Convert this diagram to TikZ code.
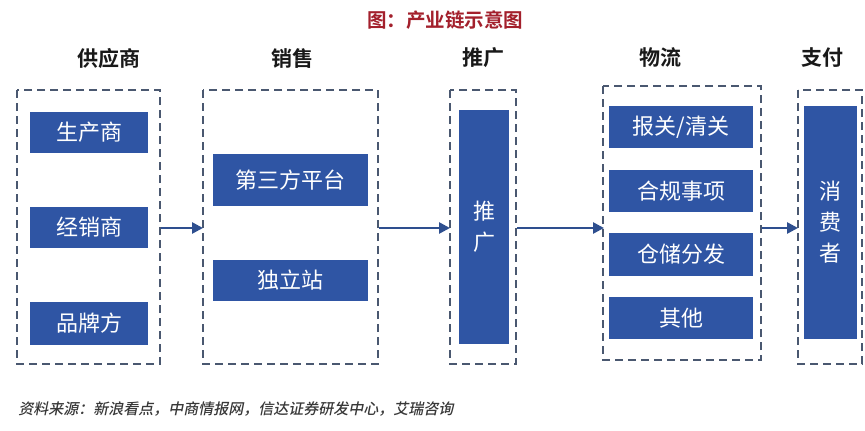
\documentclass[tikz,border=0pt]{standalone}
\usepackage{fontspec}
\newfontfamily\cjk{Noto Sans CJK SC}
\newfontfamily\cjkb{Noto Sans CJK SC Bold}
\newfontfamily\cjkm{Noto Sans CJK SC Medium}
\usetikzlibrary{arrows.meta}
\definecolor{boxblue}{HTML}{2F55A4}
\definecolor{dashc}{HTML}{4A5870}
\definecolor{arrc}{HTML}{2E4F8F}
\definecolor{titler}{HTML}{A3202C}
\tikzset{
  grp/.style={draw=dashc, line width=1.8pt, dash pattern=on 8pt off 5pt},
  item/.style={fill=boxblue, draw=none, text=white, font=\cjk\fontsize{22}{25}\selectfont},
  hdr/.style={font=\cjkb\fontsize{21}{24}\selectfont, text=black!90},
  conn/.style={draw=arrc, line width=2.6pt, -{Triangle[length=11pt,width=11pt]}},
}
\begin{document}
\begin{tikzpicture}[x=1pt,y=-1pt]
\useasboundingbox (0,0) rectangle (865,431);
\fill[white] (0,0) rectangle (865,431);
% title
\node[font=\cjkb\fontsize{19.5}{22}\selectfont, text=titler] (title) at (445,20) {图：产业链示意图};
% headers
\node[hdr] (h1) at (109,58) {供应商};
\node[hdr] (h2) at (292,58) {销售};
\node[hdr] (h3) at (483,58) {推广};
\node[hdr] (h4) at (660,58) {物流};
\node[hdr] (h5) at (822,58) {支付};
% group boxes
\draw[grp] (17,90) rectangle (160,364);
\draw[grp] (203,90) rectangle (378,364);
\draw[grp] (450,90) rectangle (516,364);
\draw[grp] (603,86) rectangle (761,360);
\draw[grp] (798,90) rectangle (862,364);
\coordinate (g1r) at (161,228);
\coordinate (g2l) at (203,228);
\coordinate (g2r) at (379,228);
\coordinate (g3l) at (450,228);
\coordinate (g3r) at (517,228);
\coordinate (g4l) at (604,228);
\coordinate (g4r) at (762,228);
\coordinate (g5l) at (798,228);
% items
\path[item] (30,112) rectangle (148,153) node[midway] (a1) {生产商};
\path[item] (30,207) rectangle (148,248) node[midway] (a2) {经销商};
\path[item] (30,302) rectangle (148,345) node[midway] (a3) {品牌方};
\path[item] (213,154) rectangle (368,206) node[midway] (b1) {第三方平台};
\path[item] (213,260) rectangle (368,301) node[midway] (b2) {独立站};
\path[item] (459,110) rectangle (509,344) node[midway, align=center] (c1) {推\\[6pt]广};
\path[item] (609,106) rectangle (753,148) node[midway] (d1) {报关/清关};
\path[item] (609,170) rectangle (753,212) node[midway] (d2) {合规事项};
\path[item] (609,233) rectangle (753,276) node[midway] (d3) {仓储分发};
\path[item] (609,297) rectangle (753,339) node[midway] (d4) {其他};
\path[item] (804,106) rectangle (857,339) node[midway, align=center] (e1) {消\\[6pt]费\\[6pt]者};
% connectors
\draw[conn] (g1r) -- (g2l);
\draw[conn] (g2r) -- (g3l);
\draw[conn] (g3r) -- (g4l);
\draw[conn] (g4r) -- (g5l);
% source
\node[anchor=west, font=\cjkm\fontsize{15}{18}\selectfont, text=black!78, xslant=0.2] (src) at (16,409) {资料来源：新浪看点，中商情报网，信达证券研发中心，艾瑞咨询};
\end{tikzpicture}
\end{document}
